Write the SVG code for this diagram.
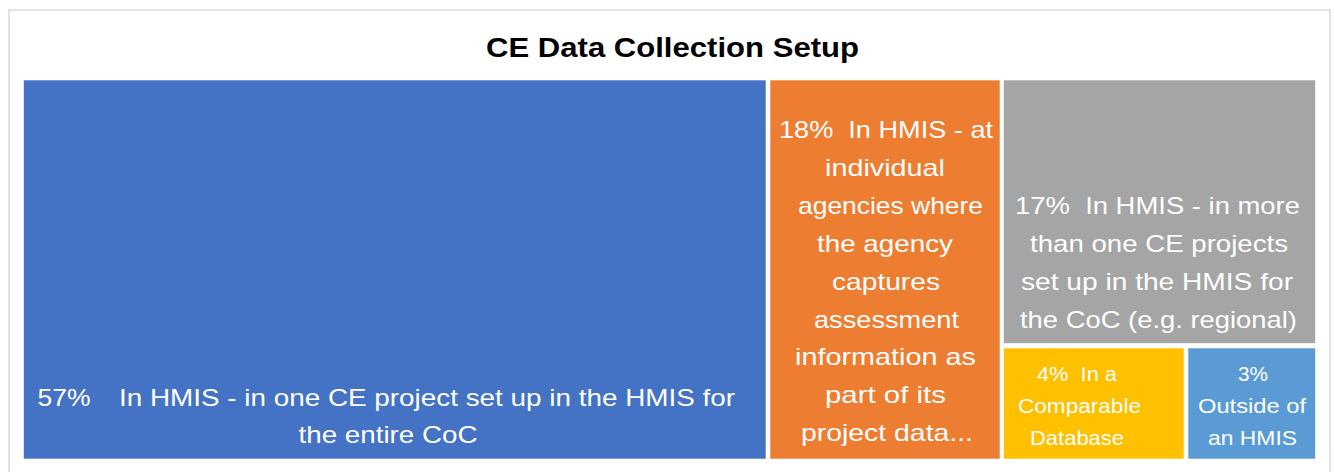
<svg xmlns="http://www.w3.org/2000/svg" width="1334" height="472" viewBox="0 0 1334 472">
<style>
.t{font-family:"Liberation Sans",Arial,sans-serif;fill:#ffffff;font-size:24px;text-anchor:middle}
.s{font-size:21px}
.title{font-family:"Liberation Sans",Arial,sans-serif;font-weight:bold;font-size:27.5px;fill:#000;text-anchor:middle}
.cell{stroke:#ffffff;stroke-opacity:0.6;stroke-width:1}
</style>
<rect x="0" y="0" width="1334" height="472" fill="#ffffff"/>
<rect x="9" y="10" width="1321" height="470" fill="#ffffff" stroke="#d9d9d9" stroke-width="1.5"/>
<text class="title" x="672.5" y="57" textLength="373" lengthAdjust="spacingAndGlyphs">CE Data Collection Setup</text>
<g id="node-57">
<rect class="cell" x="23.5" y="80" width="742.5" height="379" fill="#4472C4"/>
<text class="t" x="64" y="406" textLength="53" lengthAdjust="spacingAndGlyphs">57%</text>
<text class="t" x="427" y="406" textLength="616" lengthAdjust="spacingAndGlyphs">In HMIS - in one CE project set up in the HMIS for</text>
<text class="t" x="388" y="443" textLength="179" lengthAdjust="spacingAndGlyphs">the entire CoC</text>
</g>
<g id="node-18">
<rect class="cell" x="770" y="80" width="230" height="379" fill="#ED7D31"/>
<text class="t" x="886" y="138" textLength="214" lengthAdjust="spacingAndGlyphs">18%&#160; In HMIS - at</text>
<text class="t" x="885" y="176" textLength="120" lengthAdjust="spacingAndGlyphs">individual</text>
<text class="t" x="890.5" y="214" textLength="185" lengthAdjust="spacingAndGlyphs">agencies where</text>
<text class="t" x="885" y="252" textLength="136" lengthAdjust="spacingAndGlyphs">the agency</text>
<text class="t" x="886" y="290" textLength="108" lengthAdjust="spacingAndGlyphs">captures</text>
<text class="t" x="886.5" y="328" textLength="145" lengthAdjust="spacingAndGlyphs">assessment</text>
<text class="t" x="885.5" y="365" textLength="181" lengthAdjust="spacingAndGlyphs">information as</text>
<text class="t" x="885.5" y="403" textLength="121" lengthAdjust="spacingAndGlyphs">part of its</text>
<text class="t" x="887" y="441" textLength="172" lengthAdjust="spacingAndGlyphs">project data...</text>
</g>
<g id="node-17">
<rect class="cell" x="1003.5" y="80" width="312" height="263.5" fill="#A5A5A5"/>
<text class="t" x="1157.5" y="214" textLength="285" lengthAdjust="spacingAndGlyphs">17%&#160; In HMIS - in more</text>
<text class="t" x="1159" y="252" textLength="258" lengthAdjust="spacingAndGlyphs">than one CE projects</text>
<text class="t" x="1157" y="290" textLength="272" lengthAdjust="spacingAndGlyphs">set up in the HMIS for</text>
<text class="t" x="1158.5" y="328" textLength="277" lengthAdjust="spacingAndGlyphs">the CoC (e.g. regional)</text>
</g>
<g id="node-4">
<rect class="cell" x="1003.5" y="348" width="180.5" height="111" fill="#FFC000"/>
<text class="t s" x="1077" y="381" textLength="80" lengthAdjust="spacingAndGlyphs">4%&#160; In a</text>
<text class="t s" x="1079.5" y="413" textLength="123" lengthAdjust="spacingAndGlyphs">Comparable</text>
<text class="t s" x="1077" y="445" textLength="94" lengthAdjust="spacingAndGlyphs">Database</text>
</g>
<g id="node-3">
<rect class="cell" x="1188" y="348" width="127.5" height="111" fill="#5B9BD5"/>
<text class="t s" x="1253" y="381" textLength="30" lengthAdjust="spacingAndGlyphs">3%</text>
<text class="t s" x="1252" y="413" textLength="108" lengthAdjust="spacingAndGlyphs">Outside of</text>
<text class="t s" x="1252.5" y="445" textLength="89" lengthAdjust="spacingAndGlyphs">an HMIS</text>
</g>
<g id="connectors"></g>
</svg>
